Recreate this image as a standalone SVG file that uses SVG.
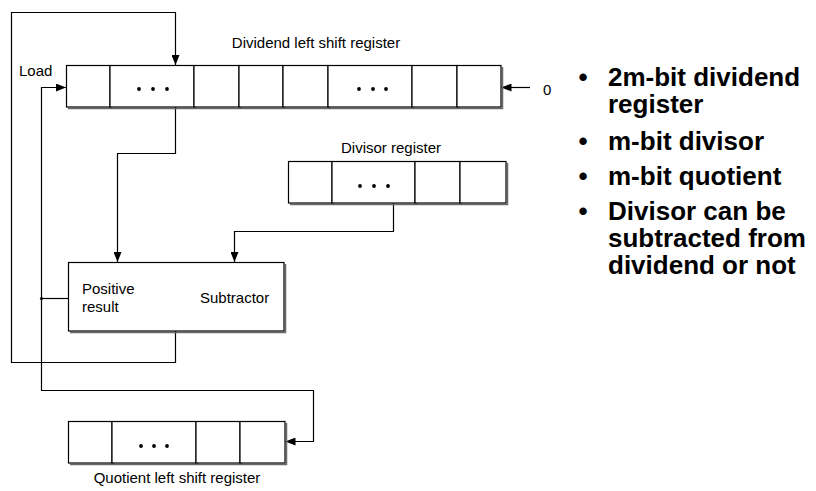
<svg xmlns="http://www.w3.org/2000/svg" width="816" height="491" viewBox="0 0 816 491">
<style>
.cell{fill:#fff;stroke:#000;stroke-width:1.2}
.shadow{fill:none;stroke:#6a6a6a;stroke-width:1.5}
.wire{fill:none;stroke:#000;stroke-width:1.2}
.lbl{font-family:"Liberation Sans",Arial,sans-serif;font-size:15px;fill:#000}
.blt{font-family:"Liberation Sans",Arial,sans-serif;font-size:26px;font-weight:bold;fill:#000}
.dot{fill:#000}
</style>
<defs>
<marker id="ah" markerUnits="userSpaceOnUse" markerWidth="10" markerHeight="8" refX="10" refY="4" orient="auto">
<path d="M0,0 L10,4 L0,8 z" fill="#000"/>
</marker>
</defs>
<rect width="816" height="491" fill="#fff"/>

<g id="connectors">
<polyline class="wire" points="175.5,331 175.5,362.5 11.5,362.5 11.5,12.5 175.5,12.5 175.5,65" marker-end="url(#ah)"/>
<polyline class="wire" points="175.5,107 175.5,153.5 117.5,153.5 117.5,262" marker-end="url(#ah)"/>
<polyline class="wire" points="393.5,203 393.5,231.5 234.5,231.5 234.5,262" marker-end="url(#ah)"/>
<polyline class="wire" points="68,298.5 41.5,298.5"/>
<polyline class="wire" points="41.5,298.5 41.5,87.5 66,87.5" marker-end="url(#ah)"/>
<polyline class="wire" points="41.5,298.5 41.5,390.5 313.5,390.5 313.5,441.5 285.5,441.5" marker-end="url(#ah)"/>
<circle cx="41.5" cy="298.5" r="1.6" fill="#000"/>
<line class="wire" x1="530" y1="87.5" x2="501.5" y2="87.5" marker-end="url(#ah)"/>
</g>

<g id="dividend-register">
<path class="shadow" d="M111.5,67 V108.5 H68 M195.5,67 V108.5 H112 M240.5,67 V108.5 H196 M284.5,67 V108.5 H241 M329.5,67 V108.5 H285 M413.5,67 V108.5 H330 M458.5,67 V108.5 H414 M502.5,67 V108.5 H459"/>
<rect class="cell" x="66.5" y="65.5" width="43.5" height="41.5"/>
<rect class="cell" x="110" y="65.5" width="84" height="41.5"/>
<rect class="cell" x="194" y="65.5" width="45" height="41.5"/>
<rect class="cell" x="239" y="65.5" width="44" height="41.5"/>
<rect class="cell" x="283" y="65.5" width="45" height="41.5"/>
<rect class="cell" x="328" y="65.5" width="84" height="41.5"/>
<rect class="cell" x="412" y="65.5" width="45" height="41.5"/>
<rect class="cell" x="457" y="65.5" width="44" height="41.5"/>
<circle class="dot" cx="139" cy="89" r="1.9"/><circle class="dot" cx="153" cy="89" r="1.9"/><circle class="dot" cx="167" cy="89" r="1.9"/>
<circle class="dot" cx="359" cy="89" r="1.9"/><circle class="dot" cx="373" cy="89" r="1.9"/><circle class="dot" cx="386" cy="89" r="1.9"/>
<text class="lbl" x="316" y="48" text-anchor="middle">Dividend left shift register</text>
<text class="lbl" x="19" y="76">Load</text>
<text class="lbl" x="543" y="95">0</text>
</g>

<g id="divisor-register">
<path class="shadow" d="M333.5,163 V204.5 H290 M416.5,163 V204.5 H334 M461.5,163 V204.5 H417 M507.5,163 V204.5 H462"/>
<rect class="cell" x="288.5" y="161.5" width="43.5" height="41.5"/>
<rect class="cell" x="332" y="161.5" width="83" height="41.5"/>
<rect class="cell" x="415" y="161.5" width="45" height="41.5"/>
<rect class="cell" x="460" y="161.5" width="46" height="41.5"/>
<circle class="dot" cx="360" cy="186" r="1.9"/><circle class="dot" cx="374" cy="186" r="1.9"/><circle class="dot" cx="388" cy="186" r="1.9"/>
<text class="lbl" x="391" y="153" text-anchor="middle">Divisor register</text>
</g>

<g id="subtractor">
<path class="shadow" d="M285.5,264 V332.5 H70"/>
<rect class="cell" x="68.5" y="262.5" width="215.5" height="68.5"/>
<text class="lbl" x="82" y="294">Positive</text>
<text class="lbl" x="82" y="312">result</text>
<text class="lbl" x="200" y="303">Subtractor</text>
</g>

<g id="quotient-register">
<path class="shadow" d="M113.5,423 V464.5 H70 M197.5,423 V464.5 H114 M241.5,423 V464.5 H198 M286.5,423 V464.5 H242"/>
<rect class="cell" x="68.5" y="421.5" width="43.5" height="41.5"/>
<rect class="cell" x="112" y="421.5" width="84" height="41.5"/>
<rect class="cell" x="196" y="421.5" width="44" height="41.5"/>
<rect class="cell" x="240" y="421.5" width="45" height="41.5"/>
<circle class="dot" cx="141" cy="446" r="1.9"/><circle class="dot" cx="154" cy="446" r="1.9"/><circle class="dot" cx="167" cy="446" r="1.9"/>
<text class="lbl" x="177" y="483" text-anchor="middle">Quotient left shift register</text>
</g>

<g id="bullets">
<text class="blt" x="583" y="86" text-anchor="middle">•</text>
<text class="blt" x="608" y="86">2m-bit dividend</text>
<text class="blt" x="608" y="113">register</text>
<text class="blt" x="583" y="150" text-anchor="middle">•</text>
<text class="blt" x="608" y="150">m-bit divisor</text>
<text class="blt" x="583" y="185" text-anchor="middle">•</text>
<text class="blt" x="608" y="185">m-bit quotient</text>
<text class="blt" x="583" y="220" text-anchor="middle">•</text>
<text class="blt" x="608" y="220">Divisor can be</text>
<text class="blt" x="608" y="247">subtracted from</text>
<text class="blt" x="608" y="274">dividend or not</text>
</g>
</svg>
